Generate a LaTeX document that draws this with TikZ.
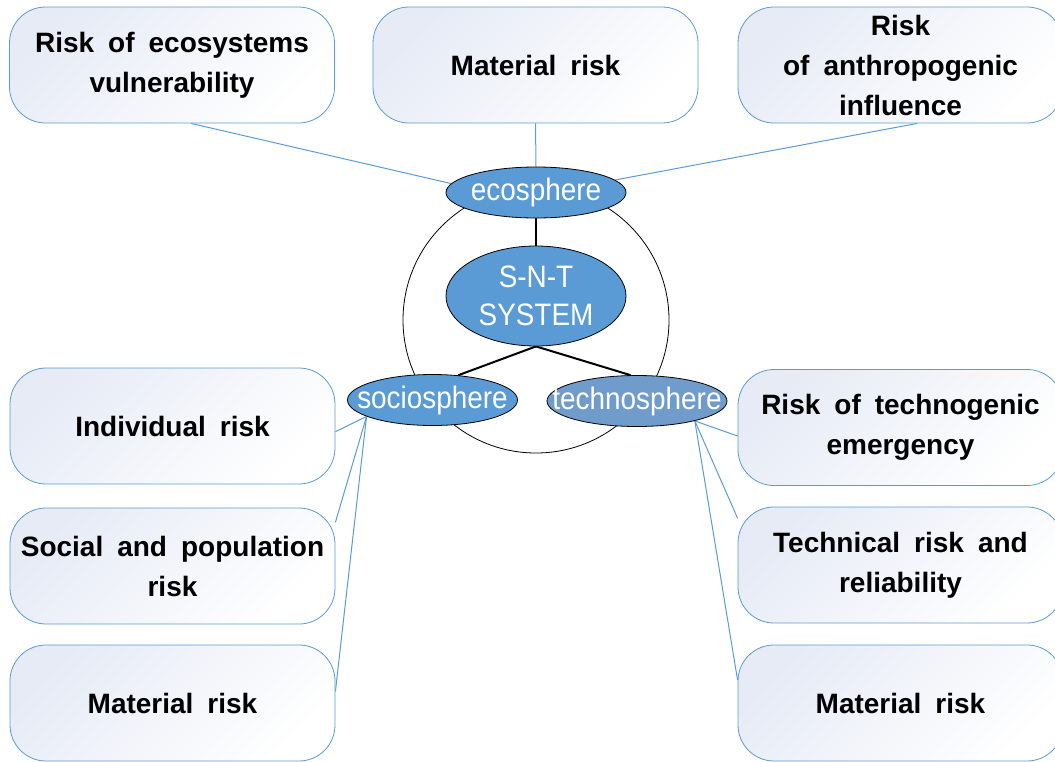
\documentclass[tikz,border=0pt]{standalone}
\usepackage{fontspec}
\setmainfont{Liberation Sans}
\newfontfamily\ellfont[FakeStretch=0.9]{Liberation Sans}
\newfontfamily\boxfont[WordSpace=1.8]{Liberation Sans}
\usetikzlibrary{shapes.geometric,backgrounds}
\definecolor{edgeblue}{RGB}{91,155,213}
\definecolor{fillblue}{RGB}{91,155,213}
\definecolor{techblue}{RGB}{112,156,204}
\definecolor{shadeblue}{RGB}{230,235,246}

\begin{document}
\begin{tikzpicture}[x=1pt,y=-1pt,
  riskbox/.style={draw=edgeblue, line width=0.8pt, rounded corners=36pt,
    minimum width=325pt, minimum height=116pt, inner sep=0pt,
    top color=shadeblue, bottom color=white, shading angle=45,
    align=center, font=\boxfont\fontsize{28}{40}\bfseries\selectfont},
  sphere/.style={ellipse, draw=black, line width=0.8pt, fill=fillblue,
    minimum width=180pt, minimum height=51pt, inner sep=0pt},
  spheretext/.style={font=\ellfont\fontsize{31}{38}\selectfont, text=white, align=center},
  link/.style={draw=edgeblue, line width=1pt},
  bond/.style={draw=black, line width=2pt}]

\clip (0,0) rectangle (1055,761);

% enclosing ring of the system
\node[circle, draw=black, line width=0.8pt, minimum size=266pt, inner sep=0pt] (ring) at (536,320) {};

% spheres and the system core
\node[sphere, label={[spheretext]center:ecosphere}] (eco) at (536,192.5) {};
\node[sphere, minimum height=100pt, label={[spheretext]center:S-N-T\\SYSTEM}] (snt) at (536,296) {};
\node[sphere, minimum width=170pt, label={[spheretext]center:sociosphere}] (soc) at (432.5,400) {};
\node[sphere, fill=techblue, label={[spheretext]center:technosphere}] (tec) at (637,401) {};

% risk boxes
\node[riskbox] (tl) at (172,65) {Risk of ecosystems\\vulnerability};
\node[riskbox] (tm) at (535.5,65) {Material risk};
\node[riskbox] (tr) at (900.5,65) {Risk\\of anthropogenic\\influence};

\node[riskbox] (ind) at (172.5,426) {Individual risk};
\node[riskbox] (pop) at (172.5,566) {Social and population\\risk};
\node[riskbox] (lmat) at (172.5,703) {Material risk};

\node[riskbox] (emg) at (900.5,427.5) {Risk of technogenic\\emergency};
\node[riskbox] (rel) at (900.5,565) {Technical risk and\\reliability};
\node[riskbox] (rmat) at (900.5,703) {Material risk};

\begin{scope}[on background layer]
  % system structure
  \draw[bond] (eco.south) -- (snt.north);
  \draw[bond] (snt.south) -- (soc.44);
  \draw[bond] (snt.south) -- (tec.104);
  % ecosphere risks
  \draw[link] (eco.174) -- (tl.-72);
  \draw[link] (eco.north) -- (tm.south);
  \draw[link] (eco.9) -- (tr.-74);
  % sociosphere risks
  \draw[link] (soc.194) -- (ind.-2.5);
  \draw[link] (soc.194) -- (pop.15.5);
  \draw[link] (soc.194) -- (lmat.4.6);
  % technosphere risks
  \draw[link] (tec.-19) -- (emg.183.7);
  \draw[link] (tec.-19) -- (rel.164.8);
  \draw[link] (tec.-19) -- (rmat.172);
\end{scope}
\end{tikzpicture}
\end{document}
